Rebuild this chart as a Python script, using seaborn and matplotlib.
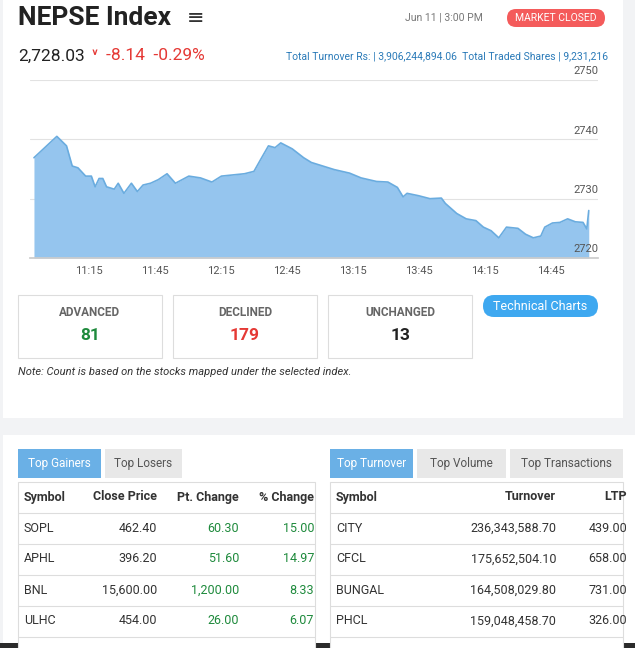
import numpy as np
import pandas as pd
import matplotlib.pyplot as plt
import seaborn as sns
from matplotlib.patches import Rectangle, FancyBboxPatch

# intraday index (minutes of day, value)
minutes = [650.0, 660.4, 664.8, 667.4, 670.0, 673.5, 676.1, 677.8, 679.6, 681.3, 683.0, 686.5,
           688.3, 690.9, 694.3, 697.0, 699.6, 703.0, 706.5, 710.5, 714.3, 720.4, 725.7, 730.9,
           735.2, 740.4, 745.7, 750.0, 753.5, 756.6, 759.6, 762.2, 767.4, 772.6, 776.1, 781.3,
           786.5, 793.5, 798.7, 805.7, 810.9, 815.2, 817.8, 819.6, 824.8, 830.0, 835.2, 837.0,
           842.2, 846.5, 850.9, 854.3, 857.8, 861.3, 864.8, 870.0, 873.5, 877.0, 880.4, 882.2,
           885.7, 889.1, 892.6, 896.1, 899.6, 901.3, 902.2]
index_vals = [2736.9, 2740.5, 2738.9, 2735.5, 2735.2, 2733.8, 2733.8, 2732.0, 2733.4, 2733.4,
              2732.0, 2731.6, 2732.6, 2730.9, 2732.6, 2731.2, 2732.3, 2732.6, 2733.2, 2734.2,
              2732.6, 2733.8, 2733.5, 2732.8, 2733.8, 2734.0, 2734.2, 2734.6, 2736.9, 2738.9,
              2738.6, 2739.4, 2738.4, 2736.9, 2736.1, 2735.5, 2734.9, 2734.3, 2733.5, 2732.9,
              2732.8, 2731.9, 2730.3, 2730.9, 2730.5, 2730.0, 2730.1, 2729.2, 2727.5, 2726.6,
              2726.3, 2725.2, 2724.6, 2723.4, 2725.2, 2725.0, 2724.0, 2723.4, 2723.7, 2725.2,
              2725.9, 2726.0, 2726.6, 2726.1, 2726.0, 2724.9, 2728.0]
x_ticks = [675, 705, 735, 765, 795, 825, 855, 885]
x_labels = ["11:15", "11:45", "12:15", "12:45", "13:15", "13:45", "14:15", "14:45"]
y_ticks = [2720, 2730, 2740, 2750]

stat_labels = ["ADVANCED", "DECLINED", "UNCHANGED"]
stat_values = ["81", "179", "13"]

gain_cols = ["Symbol", "Close Price", "Pt. Change", "% Change"]
gain_sym = ["SOPL", "APHL", "BNL", "ULHC"]
gain_close = ["462.40", "396.20", "15,600.00", "454.00"]
gain_pt = ["60.30", "51.60", "1,200.00", "26.00"]
gain_pct = ["15.00", "14.97", "8.33", "6.07"]

turn_cols = ["Symbol", "Turnover", "LTP"]
turn_sym = ["CITY", "CFCL", "BUNGAL", "PHCL"]
turn_val = ["236,343,588.70", "175,652,504.10", "164,508,029.80", "159,048,458.70"]
turn_ltp = ["439.00", "658.00", "731.00", "326.00"]

sns.set_theme(style="white")
plt.rcParams["font.family"] = ["Roboto", "DejaVu Sans"]

W, H = 635, 648
fig = plt.figure(figsize=(W / 100, H / 100), dpi=100)
fig.patch.set_facecolor("#f2f3f5")
bg = fig.add_axes([0, 0, 1, 1])
bg.set_xlim(0, W)
bg.set_ylim(H, 0)
bg.axis("off")
bg.set_facecolor("none")

# panels
bg.add_patch(Rectangle((3, 0), 620, 418, fc="white", ec="none"))
bg.add_patch(Rectangle((3, 435), 632, 213, fc="white", ec="none"))
bg.add_patch(Rectangle((0, 643), 635, 5, fc="#2b2b2b", ec="none"))

# header
bg.text(18, 18, "NEPSE Index", fontsize=19, fontweight="bold", color="#222", va="center")
bg.text(187, 18, "≡", fontsize=15, color="#333", va="center")
bg.text(483, 18, "Jun 11 | 3:00 PM", fontsize=7.5, color="#777", ha="right", va="center")
bg.add_patch(FancyBboxPatch((507, 9), 98, 18, boxstyle="round,pad=0,rounding_size=9",
                            fc="#f45b5b", ec="none"))
bg.text(556, 18, "MARKET CLOSED", fontsize=7.5, color="white", ha="center", va="center")
bg.text(18, 56, "2,728.03", fontsize=12.5, color="#222", va="center")
bg.text(92, 55, "˅", fontsize=10, color="#e53935", va="center", fontweight="bold")
bg.text(106, 56, "-8.14  -0.29%", fontsize=12.5, color="#e53935", va="center")
bg.text(608, 56, "Total Turnover Rs: | 3,906,244,894.06  Total Traded Shares | 9,231,216",
        fontsize=7.5, color="#2a7ab8", ha="right", va="center")

# chart
ax = fig.add_axes([30 / W, 1 - 258 / H, 568 / W, 178 / H])
ax.set_facecolor("white")
df = pd.DataFrame({"t": minutes, "v": index_vals})
ax.fill_between(df["t"], 2720, df["v"], color="#95c5ee", lw=0)
sns.lineplot(data=df, x="t", y="v", ax=ax, color="#6aacdf", lw=1.2)
ax.set_xlim(648.2, 906.4)
ax.set_ylim(2720, 2750)
ax.set_yticks(y_ticks)
ax.yaxis.grid(True, color="#e2e2e2", lw=0.8)
ax.set_yticklabels([])
ax.tick_params(left=False)
for yv in y_ticks:
    ax.text(906.4, yv + 0.6, str(yv), ha="right", va="bottom", fontsize=8, color="#555")
ax.set_xticks(x_ticks)
ax.set_xticklabels(x_labels, fontsize=8, color="#555")
ax.tick_params(axis="x", length=3, color="#bbb", pad=3)
ax.set_xlabel("")
ax.set_ylabel("")
for s in ["top", "right", "left"]:
    ax.spines[s].set_visible(False)
ax.spines["bottom"].set_color("#ccc")

# stat boxes
stat_colors = ["#1e8a3c", "#e53935", "#222"]
for i, (lab, val) in enumerate(zip(stat_labels, stat_values)):
    x0 = 18 + i * 155
    bg.add_patch(Rectangle((x0, 295), 144, 63, fc="white", ec="#ddd", lw=0.8))
    bg.text(x0 + 72, 313, lab, ha="center", va="center", fontsize=8.5,
            fontweight="bold", color="#666")
    bg.text(x0 + 72, 335, val, ha="center", va="center", fontsize=12.5,
            fontweight="bold", color=stat_colors[i])
bg.add_patch(FancyBboxPatch((483, 295), 115, 22, boxstyle="round,pad=0,rounding_size=11",
                            fc="#3ea8f0", ec="none"))
bg.text(540, 306, "Technical Charts", ha="center", va="center", fontsize=9, color="white")
bg.text(18, 372, "Note: Count is based on the stocks mapped under the selected index.",
        fontsize=8, style="italic", color="#333", va="center")

# tabs
tabs = [("Top Gainers", 18, 83, True), ("Top Losers", 105, 77, False),
        ("Top Turnover", 330, 83, True), ("Top Volume", 417, 89, False),
        ("Top Transactions", 510, 113, False)]
for name, x0, w, active in tabs:
    bg.add_patch(Rectangle((x0, 449), w, 29, fc="#6ab0e6" if active else "#e8e8e8", ec="none"))
    bg.text(x0 + w / 2, 463.5, name, ha="center", va="center", fontsize=8.5,
            color="white" if active else "#555")

# tables
row_y = [528, 559, 590, 621]
for x0, x1 in [(18, 315), (330, 623)]:
    bg.add_patch(Rectangle((x0, 482), x1 - x0, 170, fc="white", ec="#ddd", lw=0.8))
    for yl in [513, 544, 575, 606, 637]:
        bg.plot([x0, x1], [yl, yl], color="#ddd", lw=0.8)

hy = 497
bg.text(24, hy, gain_cols[0], fontsize=9, fontweight="bold", color="#333", va="center")
for c, xr in zip(gain_cols[1:], [157, 239, 314]):
    bg.text(xr, hy, c, fontsize=9, fontweight="bold", color="#333", va="center", ha="right")
bg.text(336, hy, turn_cols[0], fontsize=9, fontweight="bold", color="#333", va="center")
bg.text(556, hy, turn_cols[1], fontsize=9, fontweight="bold", color="#333", va="center", ha="right")
bg.text(627, hy, turn_cols[2], fontsize=9, fontweight="bold", color="#333", va="center", ha="right")

for i, y in enumerate(row_y):
    bg.text(24, y, gain_sym[i], fontsize=9, color="#333", va="center")
    bg.text(157, y, gain_close[i], fontsize=9, color="#333", va="center", ha="right")
    bg.text(239, y, gain_pt[i], fontsize=9, color="#1e8a3c", va="center", ha="right")
    bg.text(314, y, gain_pct[i], fontsize=9, color="#1e8a3c", va="center", ha="right")
    bg.text(336, y, turn_sym[i], fontsize=9, color="#333", va="center")
    bg.text(556, y, turn_val[i], fontsize=9, color="#333", va="center", ha="right")
    bg.text(627, y, turn_ltp[i], fontsize=9, color="#333", va="center", ha="right")

fig.savefig("out.png", dpi=100)
